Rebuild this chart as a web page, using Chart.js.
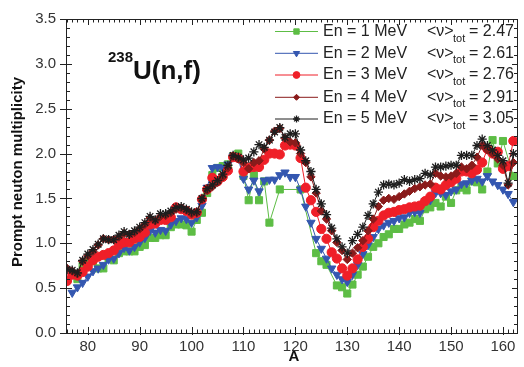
<!DOCTYPE html>
<html>
<head>
<meta charset="utf-8">
<script src="https://cdn.jsdelivr.net/npm/chart.js@4.4.1/dist/chart.umd.min.js"></script>
<style>
  html, body { margin: 0; padding: 0; background: #fff; }
</style>
</head>
<body>
<canvas id="nuChart" width="524" height="367"></canvas>
<script>
// Data
const massNumbers = [
  76, 77, 78, 79, 80, 81, 82, 83, 84, 85, 86, 87, 88, 89, 90, 91, 92, 93, 94, 95,
  96, 97, 98, 99, 100, 101, 102, 103, 104, 105, 106, 107, 108, 109, 110, 111, 112, 113, 114, 115,
  116, 117, 118, 119, 120, 121, 122, 123, 124, 125, 126, 127, 128, 129, 130, 131, 132, 133, 134, 135,
  136, 137, 138, 139, 140, 141, 142, 143, 144, 145, 146, 147, 148, 149, 150, 151, 152, 153, 154, 155,
  156, 157, 158, 159, 160, 161, 162
];

const nuEn1 = [
  null, null, 0.60, 0.75, 0.79, 0.80, 0.72, 0.72, 0.83, 0.81,
  0.89, 0.91, 0.91, 0.91, 0.96, 0.98, 1.06, 1.06, 1.09, 1.09,
  1.18, 1.21, 1.21, 1.20, 1.13, 1.26, 1.34, 1.56, 1.76, 1.84,
  1.86, 1.88, 1.97, 2.00, 1.75, 1.48, 1.76, 1.48, 1.69, 1.23,
  null, 1.60, null, null, null, 1.60, null, null, 0.89, 0.80,
  0.76, null, 0.53, 0.51, 0.44, 0.54, 0.65, 0.74, 0.85, 0.96,
  1.00, 1.07, 1.10, 1.16, 1.16, 1.21, 1.23, 1.27, 1.25, 1.38,
  1.40, 1.45, 1.41, 1.52, 1.45, 1.59, 1.62, 1.59, 1.69, 1.68,
  1.60, 1.80, 2.15, 1.89, 2.14, null, 1.75
];

const nuEn2 = [
  null, 0.45, 0.51, 0.56, 0.63, 0.69, 0.72, 0.76, 0.82, 0.83,
  0.89, 0.95, 0.92, 0.96, 1.01, 1.06, 1.14, 1.12, 1.15, 1.14,
  1.21, 1.25, 1.28, 1.27, 1.23, 1.29, 1.42, 1.62, 1.84, 1.85,
  1.84, 1.88, 1.97, 1.95, 1.72, 1.60, 1.70, 1.58, 1.70, 1.71,
  1.71, 1.76, 1.79, 1.74, 1.74, 1.60, 1.41, 1.23, 1.05, 0.94,
  0.83, 0.72, 0.65, 0.60, 0.57, 0.65, 0.76, 0.88, 0.98, 1.07,
  1.16, 1.20, 1.23, 1.25, 1.28, 1.29, 1.34, 1.35, 1.34, 1.47,
  1.48, 1.56, 1.56, 1.54, 1.58, 1.60, 1.66, 1.67, 1.70, 1.72,
  1.69, 1.75, 1.69, 1.65, 1.60, 1.55, 1.46
];

const nuEn3 = [
  0.58, 0.65, 0.64, 0.68, 0.74, 0.81, 0.85, 0.87, 0.89, 0.92,
  0.98, 1.01, 1.01, 1.05, 1.07, 1.12, 1.21, 1.22, 1.26, 1.26,
  1.29, 1.40, 1.38, 1.36, 1.32, 1.34, 1.49, 1.60, 1.73, 1.69,
  1.74, 1.81, 1.96, 1.95, 1.80, 1.84, 1.85, 1.85, 1.93, 2.00,
  2.00, 1.99, 2.09, 2.10, 2.09, 1.95, 1.62, 1.48, 1.35, 1.16,
  1.05, 0.90, 0.83, 0.72, 0.64, 0.72, 0.82, 0.96, 1.05, 1.18,
  1.25, 1.31, 1.34, 1.35, 1.37, 1.38, 1.40, 1.41, 1.42, 1.47,
  1.52, 1.62, 1.60, 1.65, 1.68, 1.72, 1.80, 1.80, 1.78, 1.82,
  1.90, 2.05, 2.00, 2.02, 1.83, 1.86, 2.14
];

const nuEn4 = [
  0.72, 0.69, 0.66, 0.80, 0.86, 0.91, 0.98, 1.05, 1.04, 1.04,
  1.07, 1.11, 1.10, 1.12, 1.16, 1.21, 1.28, 1.25, 1.30, 1.31,
  1.34, 1.38, 1.39, 1.37, 1.33, 1.34, 1.49, 1.59, 1.63, 1.68,
  1.74, 1.84, 1.97, 1.94, 1.90, 1.83, 1.90, 1.92, 2.05, 2.15,
  2.25, 2.28, 2.17, 2.13, 2.12, 2.00, 1.90, 1.74, 1.56, 1.36,
  1.27, 1.14, 1.01, 0.92, 0.82, 0.89, 0.95, 1.03, 1.14, 1.27,
  1.41, 1.48, 1.50, 1.49, 1.52, 1.55, 1.58, 1.61, 1.63, 1.65,
  1.66, 1.78, 1.75, 1.74, 1.75, 1.78, 1.85, 1.83, 1.87, 1.96,
  2.09, 2.04, 2.00, 1.94, 1.87, 1.65, 1.90
];

const nuEn5 = [
  0.71, 0.70, 0.67, 0.81, 0.88, 0.93, 0.99, 1.05, 1.04, 1.04,
  1.09, 1.13, 1.10, 1.14, 1.18, 1.23, 1.30, 1.26, 1.33, 1.33,
  1.36, 1.40, 1.41, 1.38, 1.35, 1.35, 1.50, 1.61, 1.65, 1.70,
  1.77, 1.87, 1.98, 1.96, 1.93, 1.95, 2.02, 2.10, 2.07, 2.15,
  2.24, 2.29, 2.18, 2.22, 2.22, 2.04, 1.92, 1.80, 1.60, 1.44,
  1.32, 1.17, 1.05, 0.96, 0.89, 1.03, 1.10, 1.18, 1.31, 1.44,
  1.57, 1.65, 1.66, 1.65, 1.67, 1.71, 1.69, 1.71, 1.72, 1.78,
  1.76, 1.85, 1.85, 1.86, 1.87, 1.87, 1.98, 1.98, 1.98, 2.09,
  2.16, 2.09, 2.04, 1.98, 1.92, 1.67, 2.00
];

const energies = [1, 2, 3, 4, 5];
const nuTotals = ["2.47", "2.61", "2.76", "2.91", "3.05"];
const xTickValues = [80, 90, 100, 110, 120, 130, 140, 150, 160];

// Styles
const FONT = "'Liberation Sans', Arial, sans-serif";
const seriesValues = [nuEn1, nuEn2, nuEn3, nuEn4, nuEn5];
const seriesStyle = [
  { color: "#5dbd45", point: "rect", radius: 5, rotation: 0 },
  { color: "#3457b0", point: "triangle", radius: 4.8, rotation: 180 },
  { color: "#ef1f28", point: "circle", radius: 4.6, rotation: 0 },
  { color: "#8a1b1b", point: "rectRot", radius: 4.2, rotation: 0 },
  { color: "#1e1e1e", point: "star", radius: 4.6, rotation: 0 },
];

const datasets = seriesValues.map((vals, i) => ({
  label: `En = ${energies[i]} MeV`,
  data: massNumbers.map((a, j) => ({ x: a, y: vals[j] })),
  borderColor: seriesStyle[i].color,
  backgroundColor: seriesStyle[i].color,
  borderWidth: 1,
  pointStyle: seriesStyle[i].point,
  pointRadius: seriesStyle[i].radius,
  pointRotation: seriesStyle[i].rotation,
  pointBorderWidth: seriesStyle[i].point === "star" ? 1.3 : 1,
  tension: 0,
  spanGaps: true,
  order: 5 - i,
}));

// Frame, minor ticks, legend, titles
const decorations = {
  id: "decorations",
  afterDraw(chart) {
    const { ctx, chartArea: area, scales } = chart;
    const xs = scales.x, ys = scales.y;
    ctx.save();
    ctx.strokeStyle = "#222";
    ctx.lineWidth = 1;
    ctx.strokeRect(Math.round(area.left) + 0.5, Math.round(area.top) + 0.5,
      Math.round(area.right - area.left) - 1, Math.round(area.bottom - area.top));

    ctx.beginPath();
    for (let a = 76; a <= 162; a++) {
      const px = Math.round(xs.getPixelForValue(a)) + 0.5;
      const major = a % 10 === 0;
      const len = major ? 6 : 3.5;
      ctx.moveTo(px, area.bottom + (major ? 2 : 0));
      ctx.lineTo(px, area.bottom - len);
      ctx.moveTo(px, area.top);
      ctx.lineTo(px, area.top + len);
    }
    for (let k = 0; k <= 35; k++) {
      const py = Math.round(ys.getPixelForValue(k / 10)) + 0.5;
      const major = k % 5 === 0;
      const len = major ? 6 : 4;
      ctx.moveTo(area.left - (major ? 6 : 0), py);
      ctx.lineTo(area.left + len, py);
      ctx.moveTo(area.right, py);
      ctx.lineTo(area.right - len, py);
    }
    ctx.stroke();

    // axis titles
    ctx.fillStyle = "#111";
    ctx.font = `bold 15px ${FONT}`;
    ctx.textAlign = "center";
    ctx.textBaseline = "middle";
    ctx.fillText("A", 294, 357);
    ctx.save();
    ctx.translate(18, 172);
    ctx.rotate(-Math.PI / 2);
    ctx.fillText("Prompt neuton multiplicity", 0, 0);
    ctx.restore();

    // reaction label
    ctx.textAlign = "left";
    ctx.textBaseline = "alphabetic";
    ctx.font = `bold 15px ${FONT}`;
    ctx.fillText("238", 108, 62);
    ctx.font = `bold 26px ${FONT}`;
    ctx.fillText("U(n,f)", 133, 79);

    // legend
    const rowY = [31.5, 53.3, 75, 97.3, 119];
    seriesStyle.forEach((s, i) => {
      const y = rowY[i];
      ctx.strokeStyle = s.color;
      ctx.fillStyle = s.color;
      ctx.lineWidth = 1;
      ctx.beginPath();
      ctx.moveTo(275, y);
      ctx.lineTo(318, y);
      ctx.stroke();
      ctx.lineWidth = s.point === "star" ? 1.3 : 1;
      Chart.helpers.drawPoint(ctx, {
        pointStyle: s.point,
        radius: s.radius - 1.2,
        rotation: s.rotation,
        borderWidth: ctx.lineWidth,
      }, 296.5, y);

      ctx.fillStyle = "#222";
      ctx.textBaseline = "middle";
      ctx.font = `16px ${FONT}`;
      ctx.fillText(`En = ${energies[i]} MeV`, 323, y);
      ctx.fillText("<\u03bd>", 427, y);
      ctx.font = `11px ${FONT}`;
      ctx.fillText("tot", 453, y + 7);
      ctx.font = `16px ${FONT}`;
      ctx.fillText(`= ${nuTotals[i]}`, 469, y);
    });
    ctx.restore();
  },
};

Chart.defaults.font.family = FONT;

new Chart(document.getElementById("nuChart"), {
  type: "line",
  data: { datasets },
  plugins: [decorations],
  options: {
    responsive: false,
    animation: false,
    layout: { padding: { top: 12, right: 2, left: 0, bottom: 0 } },
    plugins: { legend: { display: false }, tooltip: { enabled: false } },
    scales: {
      x: {
        type: "linear",
        min: 75.8,
        max: 162.9,
        afterBuildTicks: (scale) => { scale.ticks = xTickValues.map((v) => ({ value: v })); },
        afterFit: (scale) => { scale.height = 34; },
        grid: { display: false, drawTicks: false },
        border: { display: false },
        ticks: { color: "#333", font: { size: 15 }, padding: 5, maxRotation: 0, autoSkip: false },
      },
      y: {
        type: "linear",
        min: 0,
        max: 3.5,
        afterFit: (scale) => { scale.width = 66; },
        grid: { display: false, drawTicks: false },
        border: { display: false },
        ticks: { stepSize: 0.5, color: "#333", font: { size: 15 }, padding: 10,
          callback: (v) => v.toFixed(1) },
      },
    },
  },
});
</script>
</body>
</html>
